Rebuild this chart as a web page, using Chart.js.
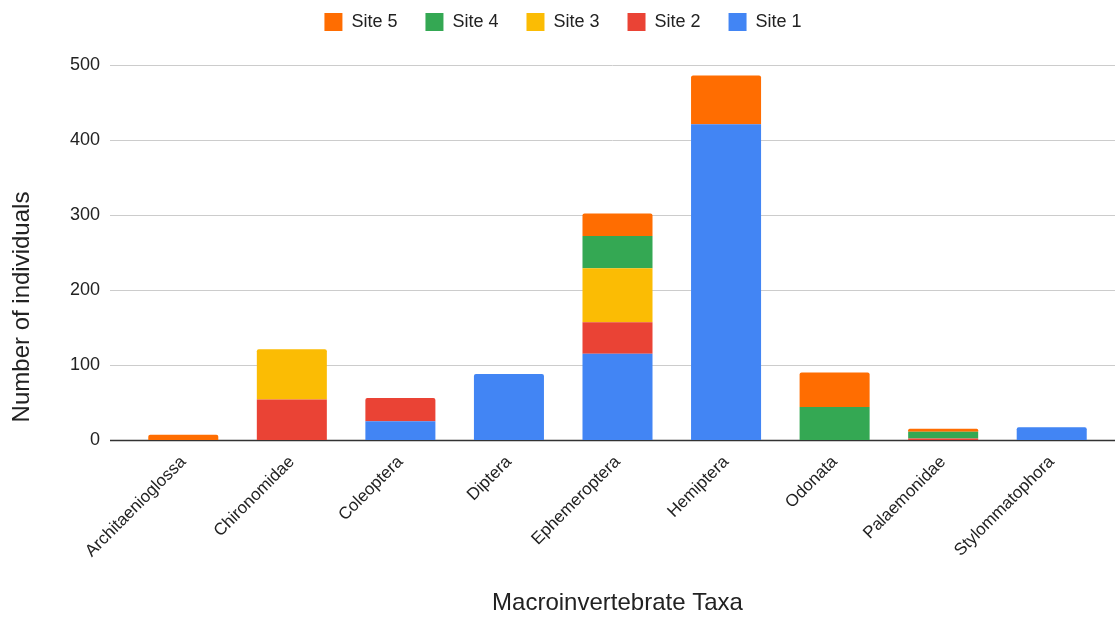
<!DOCTYPE html>
<html>
<head>
<meta charset="utf-8">
<script src="https://cdn.jsdelivr.net/npm/chart.js@4/dist/chart.umd.min.js"></script>
<style>
  html, body { margin: 0; padding: 0; background: #fff; }
  #wrap { width: 1115px; height: 618px; }
</style>
</head>
<body>
<div id="wrap"><canvas id="taxaChart"></canvas></div>
<script>
// --- Datos: individuos por taxón y sitio ---
const taxa = ["Architaenioglossa", "Chironomidae", "Coleoptera", "Diptera", "Ephemeroptera",
              "Hemiptera", "Odonata", "Palaemonidae", "Stylommatophora"];
const site1 = [0, 0, 25, 88, 115, 421, 0, 0, 17];
const site2 = [0, 54, 31, 0, 42, 0, 0, 2, 0];
const site3 = [0, 67, 0, 0, 72, 0, 0, 0, 0];
const site4 = [0, 0, 0, 0, 43, 0, 44, 9, 0];
const site5 = [7, 0, 0, 0, 30, 65, 46, 4, 0];
const yTicks = [0, 100, 200, 300, 400, 500];

const FONT = "'Liberation Sans', Arial, sans-serif";

// Líneas horizontales que sobresalen del área de barras
const wideGrid = {
    id: 'wideGrid',
    beforeDatasetsDraw(chart) {
        const ctx = chart.ctx;
        const y = chart.scales.y;
        ctx.save();
        yTicks.forEach(v => {
            const py = Math.round(y.getPixelForValue(v)) + 0.5;
            ctx.beginPath();
            ctx.strokeStyle = v === 0 ? '#333333' : '#cccccc';
            ctx.lineWidth = v === 0 ? 1.5 : 1;
            ctx.moveTo(110, py);
            ctx.lineTo(1115, py);
            ctx.stroke();
        });
        ctx.restore();
    }
};

// Título del eje Y, algo por debajo del centro del área
const yTitle = {
    id: 'yTitle',
    afterDraw(chart) {
        const ctx = chart.ctx;
        ctx.save();
        ctx.translate(22, 307);
        ctx.rotate(-Math.PI / 2);
        ctx.fillStyle = '#222';
        ctx.font = "24px " + FONT;
        ctx.textAlign = 'center';
        ctx.textBaseline = 'middle';
        ctx.fillText('Number of individuals', 0, 0);
        ctx.restore();
    }
};

// Espacio extra bajo la leyenda y leve desplazamiento a la derecha
const legendGap = {
    id: 'legendGap',
    beforeLayout(chart) {
        const lg = chart.legend;
        if (lg && !lg._gapPatched) {
            const fit = lg.fit;
            lg.fit = function () {
                fit.call(this);
                this.height += 24;
            };
            lg._gapPatched = true;
        }
    },
    afterLayout(chart) {
        if (chart.legend) {
            chart.legend.left += 10;
            chart.legend.right += 10;
        }
    }
};

const makeSet = (label, data, color) => ({
    label: label,
    data: data,
    backgroundColor: color,
    borderWidth: 0,
    borderRadius: 2,
    barPercentage: 0.645,
    categoryPercentage: 1.0
});

new Chart(document.getElementById('taxaChart'), {
    type: 'bar',
    data: {
        labels: taxa,
        datasets: [
            makeSet('Site 1', site1, '#4285f4'),
            makeSet('Site 2', site2, '#ea4335'),
            makeSet('Site 3', site3, '#fbbc04'),
            makeSet('Site 4', site4, '#34a853'),
            makeSet('Site 5', site5, '#ff6d01')
        ]
    },
    plugins: [wideGrid, yTitle, legendGap],
    options: {
        responsive: true,
        maintainAspectRatio: false,
        animation: false,
        layout: { padding: { top: -15, right: 9, left: 0, bottom: 0 } },
        scales: {
            x: {
                stacked: true,
                grid: { display: false },
                border: { display: false },
                ticks: {
                    minRotation: 45,
                    maxRotation: 45,
                    autoSkip: false,
                    color: '#222',
                    padding: 4,
                    font: { family: FONT, size: 17 }
                },
                title: {
                    display: true,
                    text: 'Macroinvertebrate Taxa',
                    color: '#222',
                    padding: { top: 0, bottom: 0 },
                    font: { family: FONT, size: 24 }
                },
                afterFit(scale) { scale.height = 178; }
            },
            y: {
                stacked: true,
                min: 0,
                max: 500,
                afterBuildTicks(scale) { scale.ticks = yTicks.map(v => ({ value: v })); },
                grid: { display: false, drawTicks: false },
                border: { display: false },
                ticks: {
                    color: '#222',
                    padding: 29,
                    font: { family: FONT, size: 18 }
                },
                afterFit(scale) { scale.width = 129; }
            }
        },
        plugins: {
            legend: {
                position: 'top',
                reverse: true,
                labels: {
                    boxWidth: 18,
                    boxHeight: 18,
                    padding: 28,
                    color: '#222',
                    font: { family: FONT, size: 18 }
                }
            },
            tooltip: { enabled: false }
        }
    }
});
</script>
</body>
</html>
